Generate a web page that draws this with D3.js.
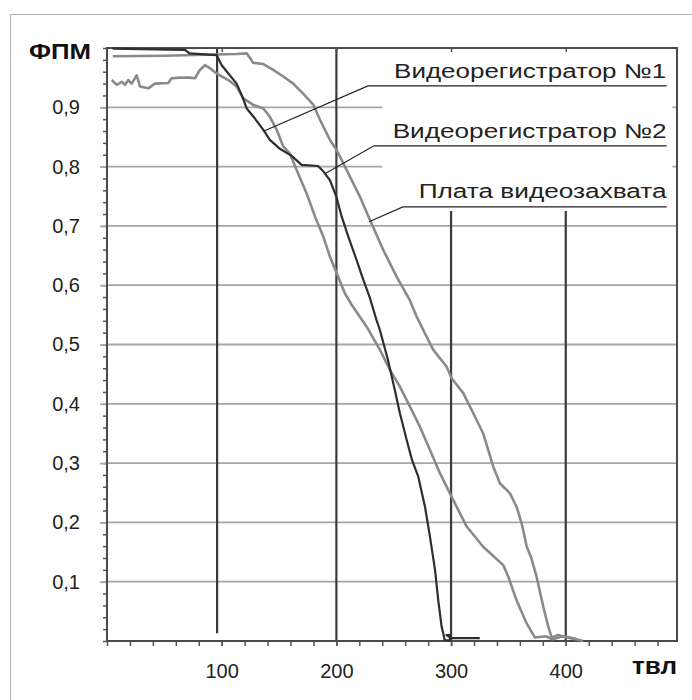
<!DOCTYPE html>
<html>
<head>
<meta charset="utf-8">
<title>ФПМ</title>
<script src="https://d3js.org/d3.v7.min.js"></script>
<style>
  body { margin: 0; background: #fff; }
  svg { display: block; font-family: "Liberation Sans", Arial, sans-serif; }
</style>
</head>
<body>
<svg id="chart" width="692" height="700"></svg>
<script>
// --- data: [tvl, fpm] ---
var dvr1 = [[4,0.946],[8.5,0.938],[12.8,0.943],[15.7,0.938],[18.6,0.946],[21.5,0.940],[25.9,0.954],[28.8,0.935],
  [36,0.932],[41.8,0.940],[53.4,0.941],[56.4,0.949],[63.6,0.950],[72,0.950],[76.7,0.949],[81,0.963],[85.4,0.971],
  [89.8,0.966],[95.6,0.957],[105.8,0.946],[113,0.935],[118.8,0.915],[127.5,0.904],[136.3,0.898],[142,0.884],
  [148,0.862],[153.7,0.834],[159.5,0.822],[165.4,0.794],[174,0.755],[181.3,0.716],[188.6,0.682],[194.4,0.648],
  [200.3,0.620],[207.5,0.586],[213,0.568],[226.4,0.530],[238,0.491],[246.7,0.457],[255.4,0.429],[264.2,0.395],
  [272.9,0.361],[281.6,0.322],[290.3,0.283],[300.5,0.243],[313.6,0.193],[328,0.159],[345.5,0.128],[350,0.108],
  [357,0.069],[365.8,0.030],[373,0.006],[382.6,0.008],[388.4,0.003],[397.7,0.008],[403.7,0.006],[415,0.0]];

var dvr2 = [[5,0.999],[68,0.997],[72,0.991],[95.6,0.988],[100,0.971],[105.8,0.957],[113,0.940],[117.4,0.921],
  [121.8,0.898],[129,0.881],[136.3,0.862],[142,0.845],[150.8,0.830],[161,0.818],[169.7,0.803],[184,0.801],
  [188.6,0.792],[194.4,0.777],[200,0.749],[204.6,0.716],[210.4,0.682],[217.7,0.642],[223.5,0.609],[229.3,0.578],
  [235,0.541],[238,0.524],[245,0.474],[251,0.423],[255.4,0.384],[261.3,0.339],[266,0.305],[271.4,0.277],
  [277.3,0.226],[281.6,0.176],[286,0.120],[288.8,0.069],[291.8,0.024],[293.5,0.010],[294.5,0.001],[299,0.001],
  [299,0.010],[296,0.010],[300,0.005],[325,0.005]];

var capture = [[5,0.986],[50,0.987],[113,0.990],[121.8,0.991],[127.5,0.975],[136.3,0.973],[145,0.963],[153.7,0.952],
  [162.4,0.940],[171,0.923],[180,0.904],[185.7,0.879],[194.4,0.845],[200.2,0.828],[209,0.794],[220.6,0.749],
  [229.3,0.710],[241,0.659],[252.6,0.614],[264,0.575],[270,0.547],[278.7,0.513],[284.5,0.491],[296,0.463],
  [300.5,0.443],[310.6,0.418],[319.4,0.384],[328,0.350],[336.8,0.294],[342.6,0.266],[351.4,0.249],[357.2,0.226],
  [361.6,0.198],[366,0.159],[370,0.140],[374.6,0.108],[380.4,0.058],[384.8,0.024],[387.7,0.006],[393.5,0.010],
  [400.8,0.006],[409.5,0.003]];

var yTicks = [0.1,0.2,0.3,0.4,0.5,0.6,0.7,0.8,0.9];
var xTicks = [100,200,300,400];
var gridBreakValues = [0.8,0.9];   // gridlines hidden behind the labels
var gridBreak = [240,493];
var markers = [{x:96,y0:0.013,y1:1},{x:200,y0:0,y1:1},{x:300,y0:0,y1:0.725},{x:400,y0:0,y1:0.725}];

// label text, anchor of text (right end), underline start, leader end
var labels = [
  {text:"Видеорегистратор №1", tx:487.5, ty:0.950, ux:227.5, uy:0.936, px:136.9, py:0.860, len:272},
  {text:"Видеорегистратор №2", tx:488,   ty:0.849, ux:232.8, uy:0.835, px:190,   py:0.788, len:274},
  {text:"Плата видеозахвата",  tx:488,   ty:0.747, ux:258,   uy:0.732, px:228.4, py:0.707, len:248}
];

var svg = d3.select('#chart');

// outer frame
svg.append('rect')
  .attr('x',10.5).attr('y',14.5).attr('width',700).attr('height',700)
  .attr('fill','none').attr('stroke','#b4b4b4').attr('stroke-width',1);

var x = d3.scaleLinear().domain([0,497]).range([107,677]);
var y = d3.scaleLinear().domain([0,1]).range([641,48]);

// horizontal grid
yTicks.forEach(function(v) {
  var segs = gridBreakValues.indexOf(v) === -1 ? [[0,497]] : [[0,gridBreak[0]],[gridBreak[1],497]];
  segs.forEach(function(s) {
    svg.append('line')
      .attr('x1',x(s[0])).attr('x2',x(s[1]))
      .attr('y1',y(v)).attr('y2',y(v))
      .attr('stroke','#a6a6a6').attr('stroke-width',1.8);
  });
});

// vertical marker lines
svg.selectAll('.marker').data(markers).enter().append('line')
  .attr('class','marker')
  .attr('x1',function(d){return x(d.x);}).attr('x2',function(d){return x(d.x);})
  .attr('y1',function(d){return y(d.y0);}).attr('y2',function(d){return y(d.y1);})
  .attr('stroke','#3a3a3a').attr('stroke-width',2.2);

// minor ticks
var yMinor = d3.range(0,1.0001,0.02);
var xMinor = d3.range(0,481,20);
svg.append('g').attr('transform','translate('+x(0)+',0)')
  .call(d3.axisLeft(y).tickValues(yMinor).tickSize(4).tickFormat(''))
  .call(function(g){g.select('.domain').remove(); g.selectAll('line').attr('stroke','#555').attr('stroke-width',1.5);});
svg.append('g').attr('transform','translate(0,'+y(0)+')')
  .call(d3.axisBottom(x).tickValues(xMinor).tickSize(5).tickFormat(''))
  .call(function(g){g.select('.domain').remove(); g.selectAll('line').attr('stroke','#555').attr('stroke-width',1.5);});
// small inner ticks on top and right
svg.append('g').attr('transform','translate(0,'+y(1)+')')
  .call(d3.axisBottom(x).tickValues(xTicks).tickSize(4).tickFormat(''))
  .call(function(g){g.select('.domain').remove(); g.selectAll('line').attr('stroke','#555').attr('stroke-width',1.5);});

// major labelled ticks
svg.append('g').attr('transform','translate('+x(0)+',0)')
  .call(d3.axisLeft(y).tickValues(yTicks).tickSize(7).tickPadding(20)
    .tickFormat(function(d){return d3.format('.1f')(d).replace('.',',');}))
  .call(function(g){
    g.select('.domain').remove();
    g.selectAll('line').attr('stroke','#a6a6a6').attr('stroke-width',1.8);
    g.selectAll('text').attr('font-size',20).attr('fill','#222').attr('font-family','"Liberation Sans", Arial, sans-serif');
  });
svg.append('g').attr('transform','translate(0,'+y(0)+')')
  .call(d3.axisBottom(x).tickValues(xTicks).tickSize(5).tickPadding(18))
  .call(function(g){
    g.select('.domain').remove();
    g.selectAll('line').attr('stroke','#555').attr('stroke-width',1.5);
    g.selectAll('text').attr('font-size',20).attr('fill','#222').attr('font-family','"Liberation Sans", Arial, sans-serif');
  });

// plot frame
svg.append('rect')
  .attr('x',x(0)).attr('y',y(1)).attr('width',x(497)-x(0)).attr('height',y(0)-y(1))
  .attr('fill','none').attr('stroke','#4a4a4a').attr('stroke-width',2);

// curves
var line = d3.line().x(function(d){return x(d[0]);}).y(function(d){return y(d[1]);});
svg.append('path').datum(capture).attr('d',line)
  .attr('fill','none').attr('stroke','#8a8a8a').attr('stroke-width',2.6).attr('stroke-linejoin','round');
svg.append('path').datum(dvr1).attr('d',line)
  .attr('fill','none').attr('stroke','#8a8a8a').attr('stroke-width',2.6).attr('stroke-linejoin','round');
svg.append('path').datum(dvr2).attr('d',line)
  .attr('fill','none').attr('stroke','#2e2e2e').attr('stroke-width',2.2).attr('stroke-linejoin','round');

// callouts
var lab = svg.selectAll('.lab').data(labels).enter().append('g').attr('class','lab');
lab.append('polyline')
  .attr('points',function(d){
    return [[x(d.px),y(d.py)],[x(d.ux),y(d.uy)],[x(488),y(d.uy)]].map(function(p){return p.join(',');}).join(' ');
  })
  .attr('fill','none').attr('stroke','#222').attr('stroke-width',1.2);
lab.append('text')
  .attr('x',function(d){return x(d.tx);}).attr('y',function(d){return y(d.ty);})
  .attr('text-anchor','end').attr('font-size',20).attr('fill','#222')
  .attr('textLength',function(d){return d.len;}).attr('lengthAdjust','spacingAndGlyphs')
  .text(function(d){return d.text;});

// axis titles
svg.append('text').attr('x',29).attr('y',58.5)
  .attr('font-size',22).attr('font-weight','bold').attr('fill','#111')
  .attr('textLength',62).attr('lengthAdjust','spacingAndGlyphs')
  .text('ФПМ');
svg.append('text').attr('x',632).attr('y',674)
  .attr('font-size',24).attr('font-weight','bold').attr('fill','#111')
  .attr('textLength',45).attr('lengthAdjust','spacingAndGlyphs')
  .text('твл');
</script>
</body>
</html>
